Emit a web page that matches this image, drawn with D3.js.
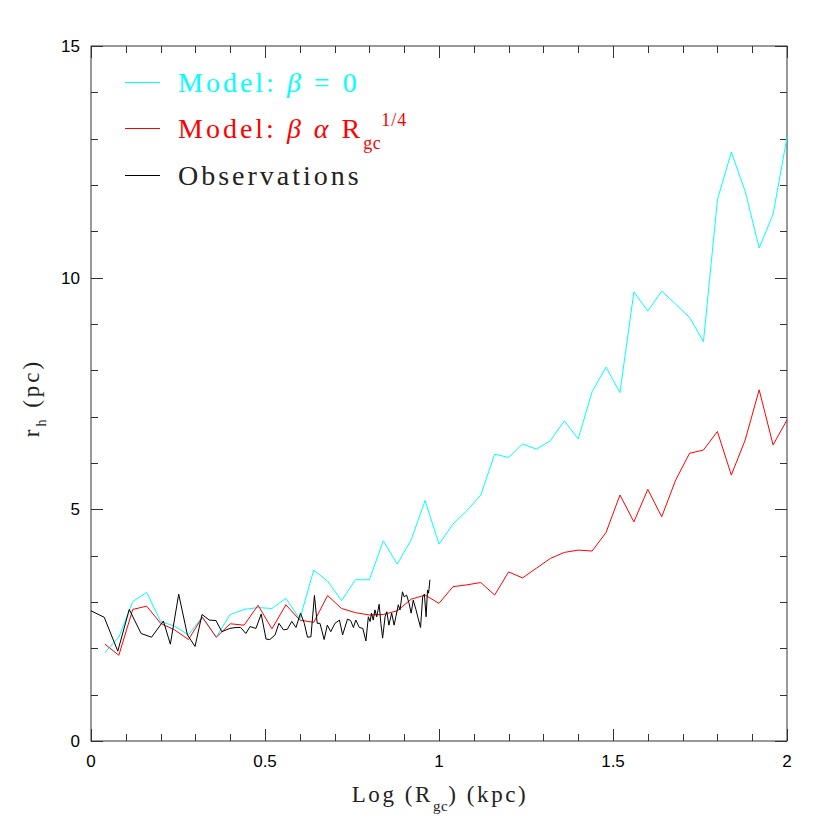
<!DOCTYPE html>
<html><head><meta charset="utf-8">
<script src="https://cdn.jsdelivr.net/npm/d3@7"></script>
<style>body{margin:0;background:#fff}</style>
</head><body>
<svg id="c" width="830" height="830"></svg>
<script>
// Model grid (log R_gc, kpc)
const modelX = [0.04,0.08,0.12,0.16,0.20,0.24,0.28,0.32,0.36,0.40,0.44,0.48,0.52,0.56,0.60,0.64,0.68,0.72,0.76,0.80,0.84,0.88,0.92,0.96,1.00,1.04,1.08,1.12,1.16,1.20,1.24,1.28,1.32,1.36,1.40,1.44,1.48,1.52,1.56,1.60,1.64,1.68,1.72,1.76,1.80,1.84,1.88,1.92,1.96,2.00];
// Model: beta = 0
const modelBeta0 = [1.91,2.24,3.01,3.21,2.58,2.48,2.29,2.68,2.24,2.73,2.84,2.88,2.86,3.08,2.63,3.69,3.45,3.03,3.48,3.48,4.32,3.82,4.34,5.19,4.25,4.68,4.97,5.31,6.19,6.12,6.41,6.30,6.48,6.91,6.52,7.54,8.07,7.52,9.69,9.28,9.71,9.43,9.14,8.62,11.68,12.71,11.86,10.64,11.37,13.03];
// Model: beta alpha Rgc^(1/4)
const modelBetaR = [2.09,1.85,2.84,2.91,2.54,2.40,2.19,2.67,2.24,2.53,2.50,2.93,2.42,2.94,2.61,2.56,3.14,2.86,2.77,2.72,2.73,2.81,3.06,3.15,2.97,3.33,3.37,3.42,3.15,3.65,3.52,3.73,3.94,4.07,4.12,4.10,4.50,5.31,4.73,5.43,4.84,5.63,6.21,6.28,6.68,5.74,6.50,7.58,6.39,6.93];
// Observations
const obsX = [0.000,0.038,0.077,0.110,0.144,0.174,0.208,0.228,0.252,0.277,0.299,0.319,0.340,0.359,0.376,0.399,0.417,0.430,0.445,0.457,0.474,0.489,0.503,0.514,0.529,0.540,0.553,0.564,0.577,0.589,0.602,0.613,0.622,0.632,0.642,0.650,0.658,0.670,0.679,0.689,0.701,0.714,0.723,0.737,0.746,0.754,0.761,0.771,0.781,0.790,0.797,0.802,0.806,0.811,0.816,0.821,0.828,0.833,0.838,0.845,0.850,0.856,0.864,0.871,0.876,0.883,0.888,0.895,0.900,0.907,0.914,0.920,0.926,0.934,0.940,0.947,0.953,0.958,0.963,0.967,0.970,0.974];
const obsY = [2.81,2.67,1.94,2.84,2.32,2.24,2.59,2.09,3.17,2.29,2.04,2.73,2.61,2.60,2.36,2.43,2.45,2.45,2.32,2.47,2.43,2.74,2.20,2.19,2.29,2.54,2.40,2.41,2.58,2.45,2.76,2.54,2.24,2.25,3.14,2.54,2.54,2.19,2.50,2.36,2.54,2.61,2.29,2.63,2.60,2.45,2.61,2.45,2.43,2.16,2.68,2.58,2.76,2.61,2.83,2.68,2.95,2.54,2.22,2.68,2.79,2.50,2.76,2.50,2.68,2.94,2.83,3.22,3.11,3.15,2.97,2.76,3.04,2.83,2.65,2.45,3.11,3.17,2.68,3.26,3.19,3.48];
const xTickLabels = ["0","0.5","1","1.5","2"];
const yTickLabels = ["0","5","10","15"];

const L=91,R=787,T=46,B=741;
const x = d3.scaleLinear().domain([0,2]).range([L,R]);
const y = d3.scaleLinear().domain([0,15]).range([B,T]);
const svg = d3.select("#c");
const axCol = "#333";

// frame
svg.append("rect").attr("x",L).attr("y",T).attr("width",R-L).attr("height",B-T)
  .attr("fill","none").attr("stroke",axCol).attr("stroke-width",1);

// ticks (inside, all four sides)
const g = svg.append("g").attr("stroke",axCol).attr("stroke-width",1);
d3.range(0,2.0001,0.1).forEach((v,i)=>{
  const len = (i%5===0)?12:7;
  const px = Math.round(x(v))+0.5;
  g.append("line").attr("x1",px).attr("x2",px).attr("y1",B).attr("y2",B-len);
  g.append("line").attr("x1",px).attr("x2",px).attr("y1",T).attr("y2",T+len);
});
d3.range(0,15.0001,1).forEach((v,i)=>{
  const len = (i%5===0)?12:7;
  const py = Math.round(y(v))+0.5;
  g.append("line").attr("y1",py).attr("y2",py).attr("x1",L).attr("x2",L+len);
  g.append("line").attr("y1",py).attr("y2",py).attr("x1",R).attr("x2",R-len);
});

// tick labels
const tf = "'Liberation Sans', Arial, sans-serif";
xTickLabels.forEach(t=>{
  svg.append("text").attr("x",x(+t)).attr("y",B+26).attr("text-anchor","middle")
    .attr("font-family",tf).attr("font-size",17).attr("fill","#000").text(t);
});
yTickLabels.forEach(t=>{
  svg.append("text").attr("x",L-11).attr("y",y(+t)+6).attr("text-anchor","end")
    .attr("font-family",tf).attr("font-size",17).attr("fill","#000").text(t);
});

// lines
const line = d3.line().x(d=>x(d[0])).y(d=>y(d[1]));
svg.append("path").datum(modelX.map((v,i)=>[v,modelBeta0[i]])).attr("d",line)
  .attr("fill","none").attr("stroke","#00ffff").attr("stroke-width",1);
svg.append("path").datum(modelX.map((v,i)=>[v,modelBetaR[i]])).attr("d",line)
  .attr("fill","none").attr("stroke","#ff0000").attr("stroke-width",1);
svg.append("path").datum(obsX.map((v,i)=>[v,obsY[i]])).attr("d",line)
  .attr("fill","none").attr("stroke","#000").attr("stroke-width",1);

// serif texts
const sf = "'Liberation Serif', 'DejaVu Serif', serif";
// x label
const xl = svg.append("text").attr("x",440).attr("y",802).attr("text-anchor","middle")
  .attr("font-family",sf).attr("font-size",23).attr("fill","#222").attr("letter-spacing",2.6);
xl.append("tspan").text("Log (R");
xl.append("tspan").attr("font-size",15).attr("letter-spacing",0.5).attr("dy",9).text("gc");
xl.append("tspan").attr("dy",-9).text(") (kpc)");
// y label
const yl = svg.append("text").attr("transform","translate(39,398) rotate(-90)").attr("text-anchor","middle")
  .attr("font-family",sf).attr("font-size",23).attr("fill","#222").attr("letter-spacing",3);
yl.append("tspan").text("r");
yl.append("tspan").attr("font-size",14).attr("dy",7).text("h");
yl.append("tspan").attr("dy",-7).text(" (pc)");

// legend
const legend = [
  {col:"#00ffff", y:82},
  {col:"#ff0000", y:128},
  {col:"#000", y:175}
];
legend.forEach(d=>{
  svg.append("line").attr("x1",125).attr("x2",160).attr("y1",d.y+0.5).attr("y2",d.y+0.5)
    .attr("stroke",d.col).attr("stroke-width",1);
});
const t1 = svg.append("text").attr("x",178).attr("y",92).attr("font-family",sf).attr("font-size",28)
  .attr("fill","#00ffff").attr("letter-spacing",3);
t1.append("tspan").text("Model: ");
t1.append("tspan").attr("font-style","italic").text("β");
t1.append("tspan").text(" = 0");
const t2 = svg.append("text").attr("x",178).attr("y",138).attr("font-family",sf).attr("font-size",28)
  .attr("fill","#ff0000").attr("letter-spacing",3);
t2.append("tspan").text("Model: ");
t2.append("tspan").attr("font-style","italic").text("β");
t2.append("tspan").text(" ");
t2.append("tspan").attr("font-style","italic").text("α");
t2.append("tspan").text(" R");
t2.append("tspan").attr("font-size",18).attr("letter-spacing",0.5).attr("dy",11).text("gc");
t2.append("tspan").attr("font-size",18).attr("letter-spacing",1).attr("dy",-23).text("1/4");
const t3 = svg.append("text").attr("x",178).attr("y",185).attr("font-family",sf).attr("font-size",28)
  .attr("fill","#222").attr("letter-spacing",3).text("Observations");
</script>
</body></html>
